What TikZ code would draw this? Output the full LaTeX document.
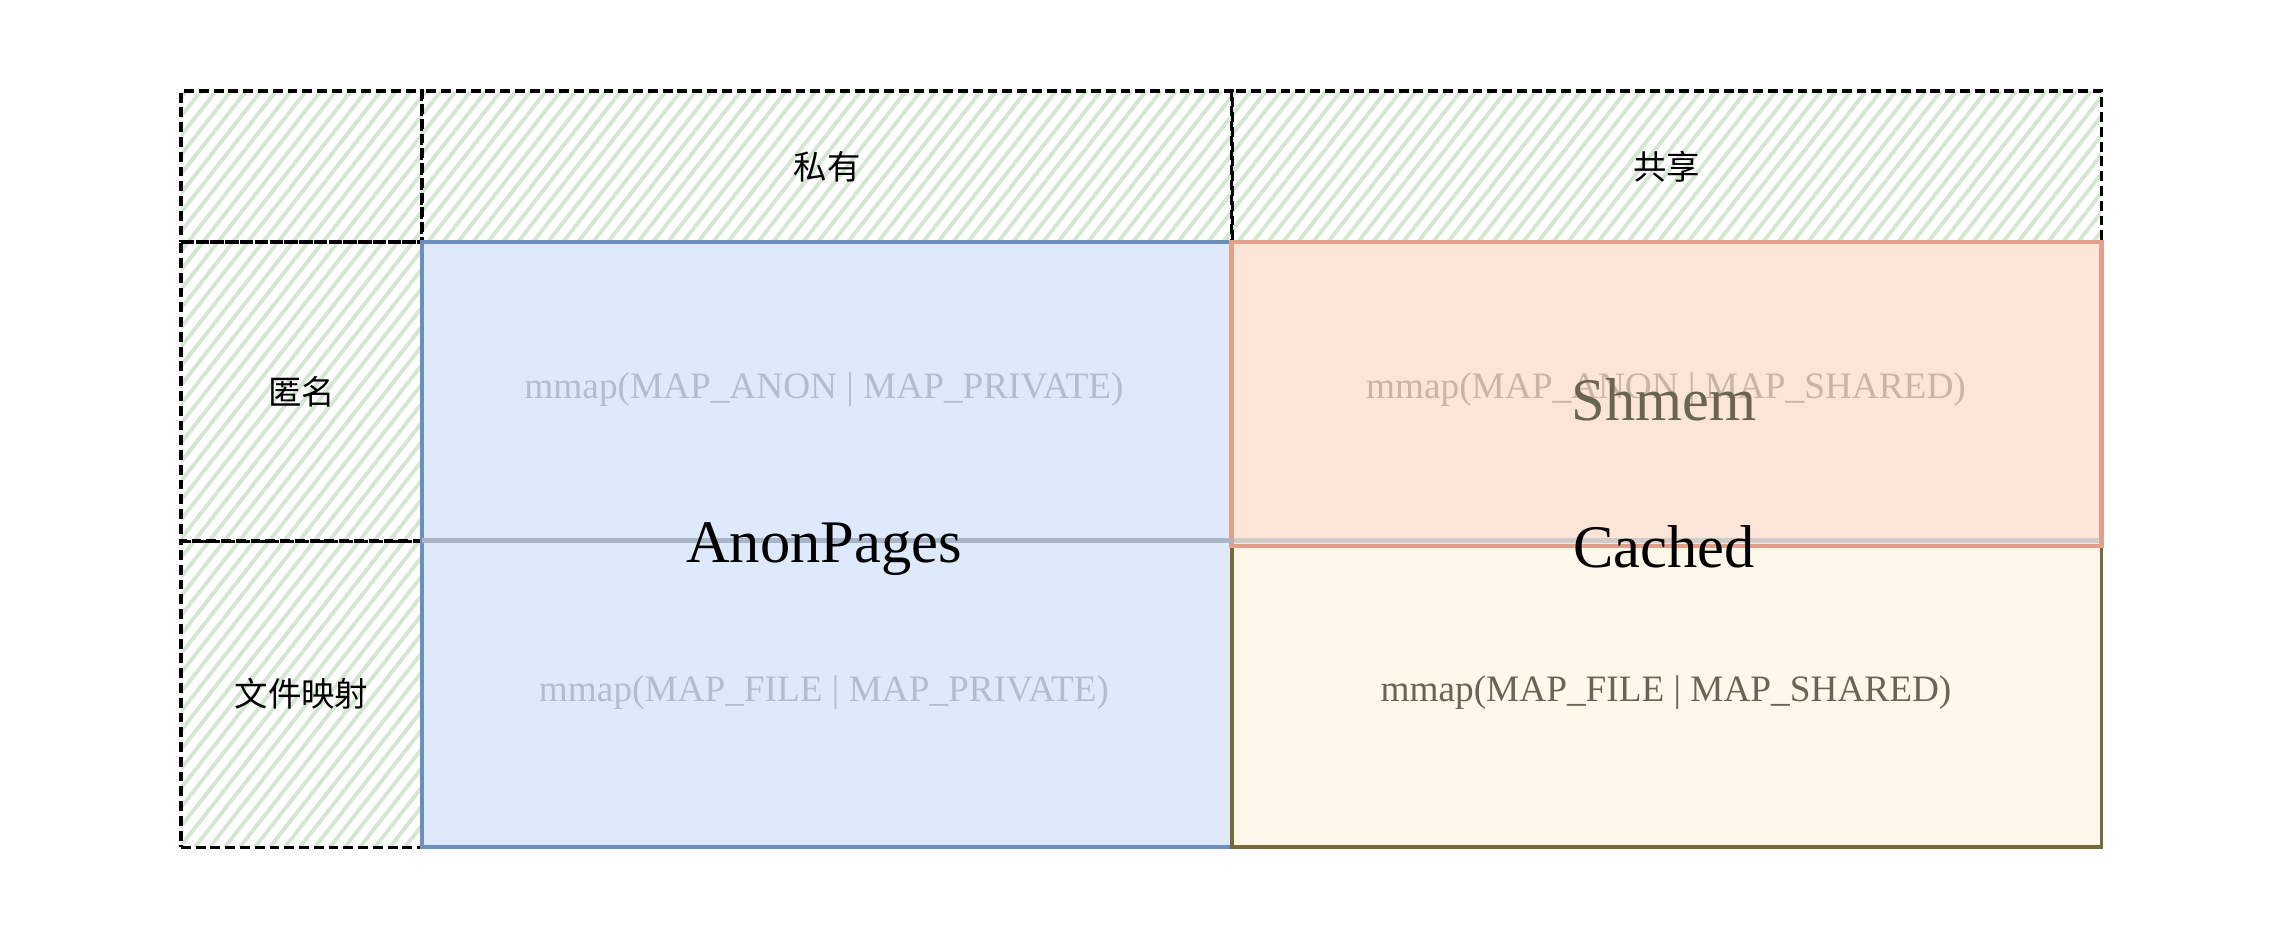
\documentclass[tikz,border=0pt]{standalone}
\usepackage{fontspec}
\setmainfont{Liberation Serif}
\newfontfamily\cjk{Noto Sans CJK SC}

\definecolor{hatchgreen}{HTML}{D3E7D1}
\definecolor{anonfill}{HTML}{DEEAFB}
\definecolor{anonline}{HTML}{6C8EBF}
\definecolor{cachefill}{HTML}{FFF8EA}
\definecolor{cacheline}{HTML}{766A3A}
\definecolor{shmfill}{HTML}{FBE5D6}
\definecolor{shmline}{HTML}{E2A08C}
\definecolor{privtext}{HTML}{B2BECF}
\definecolor{shmtext}{HTML}{CBB4A5}
\definecolor{filetext}{HTML}{6B6455}
\definecolor{rowline}{HTML}{A9B4C4}

\tikzset{
  hcell/.style={draw=black, line width=0.9pt, dash pattern=on 2.8pt off 1.4pt,
    inner sep=0pt, outer sep=0pt, font=\cjk\fontsize{9.5}{11}\selectfont},
  hatch/.style={hatchgreen, line width=1.1pt},
  membox/.style={line width=1pt, inner sep=0pt, outer sep=0pt},
  calltext/.style={font=\fontsize{10.6}{12}\selectfont},
  bigtext/.style={font=\fontsize{17.2}{20}\selectfont}
}

\begin{document}
\begin{tikzpicture}[x=0.01cm,y=-0.01cm]
\useasboundingbox[fill=white] (0,0) rectangle (2283,933);

% Hatch behind header row and left column
\begin{scope}
  \clip (181,91) -- (2101,91) -- (2101,242) -- (422,242) -- (422,847) -- (181,847) -- cycle;
  \foreach \s in {-420,-405,...,2110}
    \draw[hatch] (\s,847) -- ++(591,-756);
\end{scope}

% Draw header row and left column
\node[hcell, minimum width=2.41cm, minimum height=1.51cm] (corner) at (301.5,166.5) {};
\node[hcell, minimum width=8.10cm, minimum height=1.51cm] (hpriv) at (827,166.5) {私有};
\node[hcell, minimum width=8.69cm, minimum height=1.51cm] (hshared) at (1666.5,166.5) {共享};
\node[hcell, minimum width=2.41cm, minimum height=2.99cm] (ranon) at (301.5,391.5) {匿名};
\node[hcell, minimum width=2.41cm, minimum height=3.06cm] (rfile) at (301.5,694) {文件映射};

% Draw memory boxes
\node[membox, fill=anonfill, draw=anonline, minimum width=8.10cm, minimum height=6.05cm] (anonbox) at (827,544.5) {};
\node[membox, fill=cachefill, draw=cacheline, minimum width=8.69cm, minimum height=6.05cm] (cachebox) at (1666.5,544.5) {};
\node[membox, fill=shmfill, draw=shmline, line width=1.3pt, minimum width=8.69cm, minimum height=3.04cm] (shmbox) at (1666.5,394) {};

% Row divider seen through the boxes
\draw[rowline, line width=1.4pt] (rfile.north east) -- (anonbox.east |- rfile.north);
\draw[rowline, line width=1.4pt, opacity=0.5] (cachebox.west |- rfile.north) -- (cachebox.east |- rfile.north);

% mmap calls
\node[calltext, text=privtext] (anonpriv) at (824,390) {mmap(MAP\_ANON | MAP\_PRIVATE)};
\node[calltext, text=privtext] (filepriv) at (824,693) {mmap(MAP\_FILE | MAP\_PRIVATE)};
\node[calltext, text=shmtext] (anonshared) at (1666,390) {mmap(MAP\_ANON | MAP\_SHARED)};
\node[calltext, text=filetext] (fileshared) at (1666,693) {mmap(MAP\_FILE | MAP\_SHARED)};

% Counters
\node[bigtext] (anonlabel) at (824,549) {AnonPages};
\node[bigtext, text=filetext] (shmlabel) at (1664,400) {Shmem};
\node[bigtext] (cachelabel) at (1664,547) {Cached};
\end{tikzpicture}
\end{document}
